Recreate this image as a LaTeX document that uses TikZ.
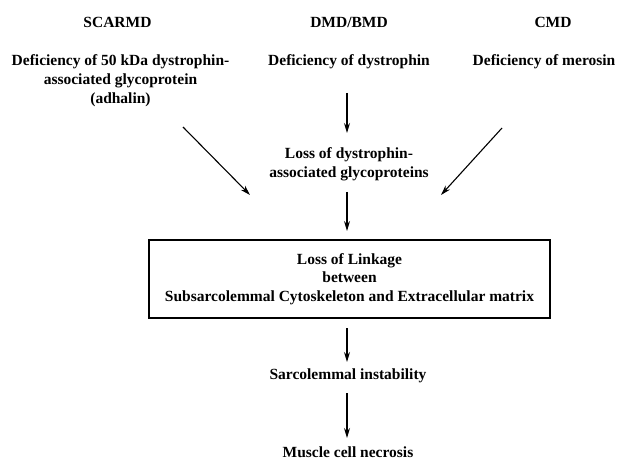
\documentclass[tikz,border=0pt]{standalone}
\usepackage{fontspec}
\setmainfont{Liberation Serif}
\usetikzlibrary{arrows.meta}
\begin{document}
\begin{tikzpicture}[x=1pt,y=-1pt,
  lbl/.style={font=\fontsize{15.5}{18.7}\selectfont\bfseries, align=center, inner sep=0pt, anchor=center},
  arr/.style={-{Stealth[length=10pt,width=6pt]}, line width=1.1pt}]
\useasboundingbox (0,0) rectangle (623,462);
\node[lbl] (scarmd) at (117.5,22) {SCARMD};
\node[lbl] (dmd) at (349,22) {DMD/BMD};
\node[lbl] (cmd) at (553,22) {CMD};
\node[lbl] (defa) at (120.5,80.5) {Deficiency of 50 kDa dystrophin-\\associated glycoprotein\\(adhalin)};
\node[lbl] (defd) at (349,62) {Deficiency of dystrophin};
\node[lbl] (defm) at (544,62) {Deficiency of merosin};
\node[lbl] (loss) at (349,164.5) {Loss of dystrophin-\\associated glycoproteins};
\node[lbl, draw, line width=1.3pt, minimum width=401pt, minimum height=78pt] (box) at (349.5,279) {Loss of Linkage\\between\\Subsarcolemmal Cytoskeleton and Extracellular matrix};
\node[lbl] (inst) at (348,376) {Sarcolemmal instability};
\node[lbl] (necr) at (348,452.5) {Muscle cell necrosis};
\coordinate (ta) at (347,93);
\coordinate (tb) at (347,133);
\coordinate (la) at (183,127);
\coordinate (lb) at (250,195);
\coordinate (ra) at (502,128);
\coordinate (rb) at (441,195);
\coordinate (ma) at (347,192);
\coordinate (mb) at (347,231);
\coordinate (ba) at (347,328);
\coordinate (bb) at (347,362);
\coordinate (ia) at (347,393);
\coordinate (ib) at (347,438);
\draw[arr] (ta) -- (tb);
\draw[arr] (la) -- (lb);
\draw[arr] (ra) -- (rb);
\draw[arr] (ma) -- (mb);
\draw[arr] (ba) -- (bb);
\draw[arr] (ia) -- (ib);
\end{tikzpicture}
\end{document}
